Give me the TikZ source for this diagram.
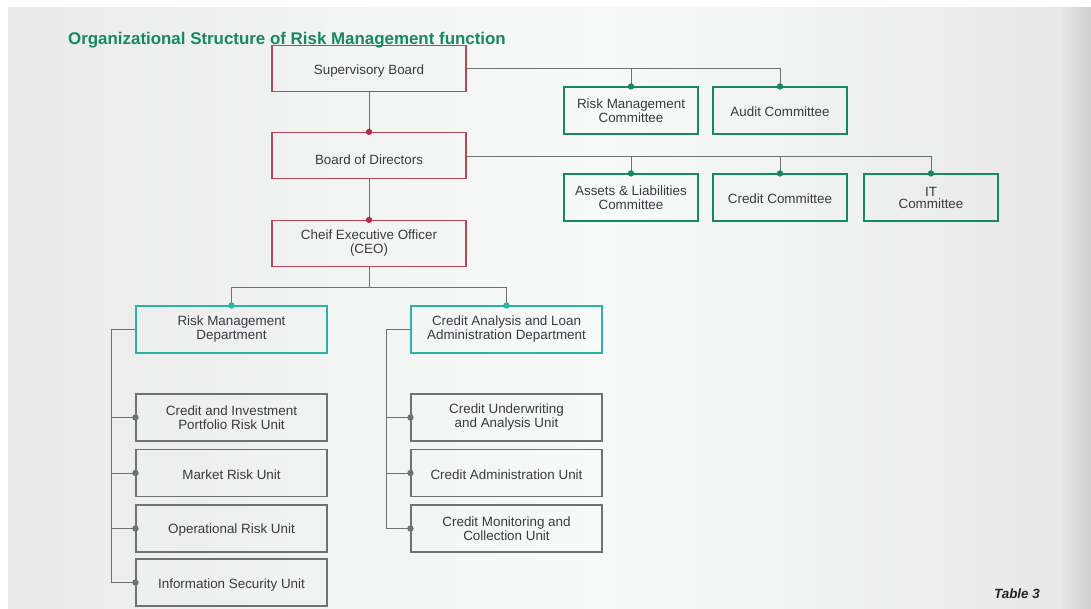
\documentclass[tikz,border=0pt]{standalone}
\usepackage{fontspec}
\setmainfont{Liberation Sans}
\definecolor{redc}{RGB}{184,70,88}
\definecolor{reddot}{RGB}{176,48,72}
\definecolor{greenc}{RGB}{22,138,94}
\definecolor{tealc}{RGB}{42,180,164}
\definecolor{grayc}{RGB}{108,114,117}
\definecolor{txt}{RGB}{58,58,64}
\definecolor{bgl}{RGB}{234,234,234}
\definecolor{bgm}{RGB}{248,250,250}
\definecolor{bgr}{RGB}{232,232,232}
\definecolor{bge}{RGB}{206,206,206}
\tikzset{
  dn/.style={execute at begin node={\rule{0pt}{#1pt}}},
  box/.style={draw, line width=1.1pt, inner sep=0pt, align=center, text=txt,
    font=\fontsize{13.4}{14}\selectfont, dn=12.5},
  redbox/.style={box, draw=redc, minimum width=194pt, minimum height=46pt},
  combox/.style={box, draw=greenc, minimum width=134pt, minimum height=47pt},
  depbox/.style={box, draw=tealc, minimum width=191pt, minimum height=47pt},
  unitbox/.style={box, draw=grayc, minimum width=191pt, minimum height=47pt},
  conn/.style={draw=grayc, line width=1pt},
}
\begin{document}
\begin{tikzpicture}[x=1pt,y=-1pt]
\useasboundingbox (0,0) rectangle (1091,609);
\fill[white] (0,0) rectangle (1091,609);
\shade[left color=bgl, right color=bgm] (8,8) rectangle (600,609);
\shade[left color=bgm, right color=bgr] (600,8) rectangle (1060,609);
\shade[left color=bgr, right color=bge] (1060,8) rectangle (1091,609);

\node[anchor=base west, text=greenc, font=\bfseries\fontsize{16.9}{18}\selectfont, inner sep=0pt] (title) at (68,45) {Organizational Structure of Risk Management function};

% top level
\node[redbox, dn=15.5] (sb) at (369,68.5) {Supervisory Board};
\node[redbox, dn=17.5] (bod) at (369,155.5) {Board of Directors};
\node[redbox] (ceo) at (369,243.5) {Cheif Executive Officer\\(CEO)};

% committees
\node[combox, dn=14] (rmc) at (631,110.5) {Risk Management\\Committee};
\node[combox] (ac) at (780,110.5) {Audit Committee};
\node[combox] (alc) at (631,197.5) {Assets \& Liabilities\\Committee};
\node[combox] (cc) at (780,197.5) {Credit Committee};
\node[combox, font=\fontsize{13.4}{12}\selectfont] (itc) at (931,197.5) {IT\\Committee};

% departments
\node[depbox] (rmd) at (231.5,329.5) {Risk Management\\Department};
\node[depbox] (cal) at (506.5,329.5) {Credit Analysis and Loan\\Administration Department};

% units
\node[unitbox] (l1) at (231.5,417.5) {Credit and Investment\\Portfolio Risk Unit};
\node[unitbox, dn=10] (l2) at (231.5,473) {Market Risk Unit};
\node[unitbox] (l3) at (231.5,528.5) {Operational Risk Unit};
\node[unitbox, dn=14] (l4) at (231.5,582.5) {Information Security Unit};
\node[unitbox, dn=14] (r1) at (506.5,417.5) {Credit Underwriting\\and Analysis Unit};
\node[unitbox, dn=10] (r2) at (506.5,473) {Credit Administration Unit};
\node[unitbox] (r3) at (506.5,528.5) {Credit Monitoring and\\Collection Unit};

\node[anchor=east, font=\bfseries\itshape\fontsize{13.4}{15}\selectfont, text=black!85, inner sep=0pt] (tab) at (1040,594) {Table 3};

% connectors
\draw[conn] (sb.south) -- (bod.north);
\draw[conn] (bod.south) -- (ceo.north);
\fill[reddot] (bod.north) circle (3.2);
\fill[reddot] (ceo.north) circle (3.2);

\draw[conn] (sb.east) -- (sb.east -| ac.north) -- (ac.north);
\draw[conn] (sb.east -| rmc.north) -- (rmc.north);
\draw[conn] ([yshift=-1]bod.east) -- ([yshift=-1]bod.east -| itc.north) -- (itc.north);
\draw[conn] ([yshift=-1]bod.east -| alc.north) -- (alc.north);
\draw[conn] ([yshift=-1]bod.east -| cc.north) -- (cc.north);
\foreach \n in {rmc,ac,alc,cc,itc} \fill[greenc] (\n.north) circle (3.2);

\draw[conn] (ceo.south) -- ++(0,20) coordinate (j1);
\draw[conn] (rmd.north) |- (j1) -| (cal.north);
\fill[tealc] (rmd.north) circle (3.2);
\fill[tealc] (cal.north) circle (3.2);

\draw[conn] (rmd.west) -- ++(-24,0) coordinate (lb) |- (l4.west);
\foreach \n in {l1,l2,l3} \draw[conn] (lb |- \n.west) -- (\n.west);
\draw[conn] (cal.west) -- ++(-24,0) coordinate (rb) |- (r3.west);
\foreach \n in {r1,r2} \draw[conn] (rb |- \n.west) -- (\n.west);
\foreach \n in {l1,l2,l3,l4,r1,r2,r3} \fill[grayc] (\n.west) circle (3.2);
\end{tikzpicture}
\end{document}
